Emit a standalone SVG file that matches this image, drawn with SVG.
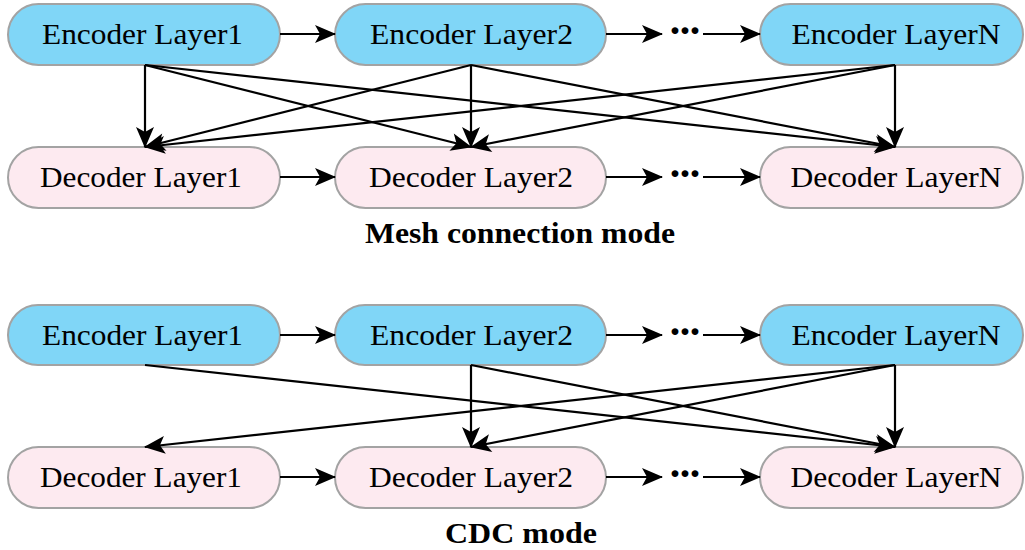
<svg xmlns="http://www.w3.org/2000/svg" width="1025" height="550" viewBox="0 0 1025 550">
  <style>
    .enc { fill: #80D6F7; stroke: #A3A3A3; stroke-width: 2; }
    .dec { fill: #FDEAF0; stroke: #A3A3A3; stroke-width: 2; }
    .lbl { font-family: "Liberation Serif", "Times New Roman", serif; font-size: 30px; fill: #000; text-anchor: middle; }
    .ttl { font-family: "Liberation Serif", "Times New Roman", serif; font-size: 30px; font-weight: bold; fill: #000; text-anchor: middle; }
    .dots { font-family: "Liberation Serif", "Times New Roman", serif; font-size: 42px; font-weight: bold; fill: #000; text-anchor: middle; }
    .conn line { stroke: #000; stroke-width: 2.2; fill: none; marker-end: url(#arr); }
  </style>
  <defs>
    <marker id="arr" markerUnits="userSpaceOnUse" markerWidth="22" markerHeight="20" refX="20" refY="9" orient="auto" overflow="visible">
      <path d="M0,0 L21,9 L0,18 L5,9 Z" fill="#000"/>
    </marker>
  </defs>

  <rect width="1025" height="550" fill="#fff"/>

  <!-- Mesh connection mode -->
  <g id="mesh-enc1"><rect class="enc" x="8" y="4" width="272" height="61" rx="30.5"/><text class="lbl" x="142.5" y="43.5" textLength="201" lengthAdjust="spacingAndGlyphs">Encoder Layer1</text></g>
  <g id="mesh-enc2"><rect class="enc" x="335" y="4" width="271" height="61" rx="30.5"/><text class="lbl" x="471.5" y="43.5" textLength="203" lengthAdjust="spacingAndGlyphs">Encoder Layer2</text></g>
  <g id="mesh-encN"><rect class="enc" x="760" y="4" width="263" height="61" rx="30.5"/><text class="lbl" x="896" y="43.5" textLength="209" lengthAdjust="spacingAndGlyphs">Encoder LayerN</text></g>
  <g id="mesh-dec1"><rect class="dec" x="8" y="147" width="272" height="61" rx="30.5"/><text class="lbl" x="141" y="187" textLength="202" lengthAdjust="spacingAndGlyphs">Decoder Layer1</text></g>
  <g id="mesh-dec2"><rect class="dec" x="335" y="147" width="271" height="61" rx="30.5"/><text class="lbl" x="471" y="187" textLength="204" lengthAdjust="spacingAndGlyphs">Decoder Layer2</text></g>
  <g id="mesh-decN"><rect class="dec" x="760" y="147" width="263" height="61" rx="30.5"/><text class="lbl" x="896" y="187" textLength="211" lengthAdjust="spacingAndGlyphs">Decoder LayerN</text></g>
  <g id="mesh-dots-enc"><text class="dots" x="675 685 695" y="45">···</text></g>
  <g id="mesh-dots-dec"><text class="dots" x="675 685 695" y="188">···</text></g>
  <g id="mesh-title"><text class="ttl" x="520" y="243" textLength="310" lengthAdjust="spacingAndGlyphs">Mesh connection mode</text></g>

  <!-- CDC mode -->
  <g id="cdc-enc1"><rect class="enc" x="8" y="305" width="272" height="60" rx="30"/><text class="lbl" x="142.5" y="345" textLength="201" lengthAdjust="spacingAndGlyphs">Encoder Layer1</text></g>
  <g id="cdc-enc2"><rect class="enc" x="335" y="305" width="271" height="60" rx="30"/><text class="lbl" x="471.5" y="345" textLength="203" lengthAdjust="spacingAndGlyphs">Encoder Layer2</text></g>
  <g id="cdc-encN"><rect class="enc" x="760" y="305" width="263" height="60" rx="30"/><text class="lbl" x="896" y="345" textLength="209" lengthAdjust="spacingAndGlyphs">Encoder LayerN</text></g>
  <g id="cdc-dec1"><rect class="dec" x="8" y="447" width="272" height="61" rx="30.5"/><text class="lbl" x="141" y="487" textLength="202" lengthAdjust="spacingAndGlyphs">Decoder Layer1</text></g>
  <g id="cdc-dec2"><rect class="dec" x="335" y="447" width="271" height="61" rx="30.5"/><text class="lbl" x="471" y="487" textLength="204" lengthAdjust="spacingAndGlyphs">Decoder Layer2</text></g>
  <g id="cdc-decN"><rect class="dec" x="760" y="447" width="263" height="61" rx="30.5"/><text class="lbl" x="896" y="487" textLength="211" lengthAdjust="spacingAndGlyphs">Decoder LayerN</text></g>
  <g id="cdc-dots-enc"><text class="dots" x="675 685 695" y="346">···</text></g>
  <g id="cdc-dots-dec"><text class="dots" x="675 685 695" y="488">···</text></g>
  <g id="cdc-title"><text class="ttl" x="521" y="543" textLength="152" lengthAdjust="spacingAndGlyphs">CDC mode</text></g>

  <g id="connectors" class="conn">
    <!-- mesh horizontal -->
    <line x1="280" y1="34" x2="335" y2="34"/>
    <line x1="606" y1="34" x2="662" y2="34"/>
    <line x1="703" y1="34" x2="760" y2="34"/>
    <line x1="280" y1="177" x2="335" y2="177"/>
    <line x1="606" y1="177" x2="662" y2="177"/>
    <line x1="703" y1="177" x2="760" y2="177"/>
    <!-- mesh cross -->
    <line x1="145" y1="65" x2="145" y2="147"/>
    <line x1="145" y1="65" x2="471" y2="147"/>
    <line x1="145" y1="65" x2="895" y2="147"/>
    <line x1="471" y1="65" x2="145" y2="147"/>
    <line x1="471" y1="65" x2="471" y2="147"/>
    <line x1="471" y1="65" x2="895" y2="147"/>
    <line x1="895" y1="65" x2="145" y2="147"/>
    <line x1="895" y1="65" x2="471" y2="147"/>
    <line x1="895" y1="65" x2="895" y2="147"/>
    <!-- cdc horizontal -->
    <line x1="280" y1="335" x2="335" y2="335"/>
    <line x1="606" y1="335" x2="662" y2="335"/>
    <line x1="703" y1="335" x2="760" y2="335"/>
    <line x1="280" y1="477" x2="335" y2="477"/>
    <line x1="606" y1="477" x2="662" y2="477"/>
    <line x1="703" y1="477" x2="760" y2="477"/>
    <!-- cdc cross -->
    <line x1="145" y1="365" x2="895" y2="447"/>
    <line x1="471" y1="365" x2="471" y2="447"/>
    <line x1="471" y1="365" x2="895" y2="447"/>
    <line x1="895" y1="365" x2="145" y2="447"/>
    <line x1="895" y1="365" x2="471" y2="447"/>
    <line x1="895" y1="365" x2="895" y2="447"/>
  </g>
</svg>
